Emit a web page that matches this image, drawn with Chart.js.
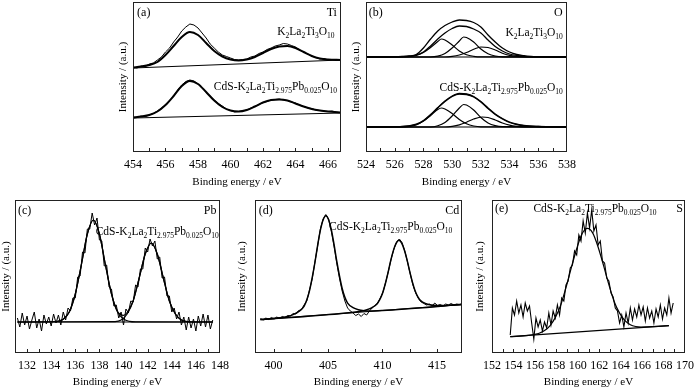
<!DOCTYPE html>
<html><head><meta charset="utf-8">
<script src="https://cdn.jsdelivr.net/npm/chart.js@4.4.1/dist/chart.umd.min.js"></script>
<style>
html,body{margin:0;padding:0;background:#fff;}
#wrap{position:relative;width:700px;height:392px;overflow:hidden;background:#fff;}
.p{position:absolute;}
canvas{display:block;}
</style></head><body><div id="wrap">
<div class="p" style="left:96px;top:0;width:254px;height:192px"><canvas id="ca" width="254" height="192"></canvas></div>
<div class="p" style="left:348px;top:0;width:234px;height:192px"><canvas id="cb" width="234" height="192"></canvas></div>
<div class="p" style="left:0;top:192px;width:235px;height:200px"><canvas id="cc" width="235" height="200"></canvas></div>
<div class="p" style="left:235px;top:192px;width:237px;height:200px"><canvas id="cd" width="237" height="200"></canvas></div>
<div class="p" style="left:472px;top:192px;width:228px;height:200px"><canvas id="ce" width="228" height="200"></canvas></div>
</div>
<script>
// ---------- tick labels ----------
const tiTickLabels = [454,456,458,460,462,464,466];
const oTickLabels  = [524,526,528,530,532,534,536,538];
const pbTickLabels = [132,134,136,138,140,142,144,146,148];
const cdTickLabels = [400,405,410,415];
const sTickLabels  = [152,154,156,158,160,162,164,166,168,170];

// ---------- (a) Ti 2p ----------
const tiTopRaw = [[454,85],[454.25,84],[454.5,86],[454.75,85.5],[455,88],[455.25,89],[455.5,92],[455.75,95],[456,100],[456.25,104],[456.5,110],[456.75,115],[457,121],[457.25,125],[457.5,128],[457.75,127],[458,124],[458.25,119],[458.5,114],[458.75,108],[459,104],[459.25,100],[459.5,97],[459.75,95.5],[460,94],[460.25,92.5],[460.5,92],[460.75,92.5],[461,93],[461.25,95],[461.5,96],[461.75,98.5],[462,100],[462.25,102.5],[462.5,104],[462.75,106],[463,107],[463.25,108.5],[463.5,108],[463.75,106.5],[464,105],[464.25,102],[464.5,100],[464.75,98],[465,96],[465.25,94.5],[465.5,93],[465.75,93.5],[466,92],[466.25,92.5],[466.5,91.5],[466.8,92]];
const tiTopFit = [[454,84.5],[454.5,85.5],[455,87],[455.5,90],[456,97],[456.5,106],[457,115],[457.5,120],[458,117],[458.5,109],[459,101],[459.5,95.5],[460,92.5],[460.5,91.5],[461,92.5],[461.5,95],[462,99],[462.5,103],[463,105.5],[463.5,106],[464,104],[464.5,100],[465,96],[465.5,93.5],[466,92.5],[466.8,92]];
const tiTopBase = [[454,84],[466.8,92]];
const tiBotRaw = [[454,35],[454.25,34.5],[454.5,36],[454.75,35.5],[455,37],[455.25,38.5],[455.5,41],[455.75,44],[456,47],[456.25,51.5],[456.5,56],[456.75,62],[457,67],[457.25,70.5],[457.5,72],[457.75,71],[458,68],[458.25,64],[458.5,59.5],[458.75,56],[459,52],[459.25,48.5],[459.5,46],[459.75,43],[460,41.5],[460.25,40],[460.5,40.5],[460.75,41],[461,42],[461.25,44],[461.5,45.5],[461.75,47.5],[462,49.5],[462.25,50.5],[462.5,52],[462.75,52.5],[463,53],[463.25,52],[463.5,51.5],[463.75,50],[464,49],[464.25,47],[464.5,45.5],[464.75,44],[465,43.5],[465.25,42],[465.5,41.5],[465.75,41],[466,40.5],[466.25,41],[466.5,40],[466.8,39.5]];
const tiBotFit = [[454,34.5],[454.5,35.5],[455,37],[455.5,40.5],[456,47],[456.5,56],[457,66],[457.5,71],[458,68],[458.5,60],[459,51.5],[459.5,45],[460,41.5],[460.5,40.5],[461,42],[461.5,45.5],[462,49.5],[462.5,52],[463,52.5],[463.5,51.5],[464,48.5],[464.5,45.5],[465,43],[465.5,41.5],[466,40.5],[466.8,39.5]];
const tiBotBase = [[454,34],[466.8,39]];

// ---------- (b) O 1s ----------
const oTopRaw = [[524,95],[525,95],[526,95.2],[526.5,95.5],[527,96],[527.5,97.5],[528,104],[528.5,113],[529,121],[529.5,126.5],[530,130],[530.5,132],[531,131.5],[531.5,129.5],[532,125],[532.5,117],[533,110],[533.5,104],[534,100],[534.5,97.5],[535,96.3],[535.5,95.6],[536,95.3],[537,95],[538,95]];
const oTopEnv = [[524,95],[526,95.2],[527,95.8],[527.5,97],[528,100],[528.5,106],[529,113],[529.5,119],[530,123.5],[530.5,126],[531,125.5],[531.5,123],[532,119],[532.5,112],[533,105.5],[533.5,101],[534,98],[534.5,96.5],[535,95.7],[536,95.2],[538,95]];
const oTopC1 = [[524,95],[526.5,95],[527,95.4],[527.5,96.5],[528,99.5],[528.5,104.5],[529,110.5],[529.25,113],[529.5,112],[530,107],[530.5,101],[531,97.3],[531.5,95.7],[532,95.1],[538,95]];
const oTopC2 = [[524,95],[528.5,95],[529,95.8],[529.5,98.5],[530,104],[530.5,111],[530.8,115],[531,114.5],[531.5,110],[532,103],[532.5,98.3],[533,96],[533.5,95.2],[538,95]];
const oTopC3 = [[524,95],[529.5,95],[530,95.6],[530.5,97],[531,99.5],[531.5,102.7],[532,105],[532.5,104.5],[533,102],[533.5,98.8],[534,96.7],[534.5,95.6],[535,95.1],[538,95]];
const oTopBase = [[524,95],[538,95]];
const oBotRaw = [[524,25],[526,25.3],[527,26.2],[527.5,27.8],[528,31.5],[528.5,37.5],[529,44.5],[529.5,51],[530,56],[530.5,58.5],[531,58],[531.5,55.5],[532,50.5],[532.5,44],[533,38],[533.5,33.5],[534,30],[534.5,27.8],[535,26.5],[536,25.6],[538,25]];
const oBotEnv = [[524,25],[526,25.2],[527,26],[527.5,27.5],[528,31],[528.5,37],[529,44],[529.5,50.5],[530,55.5],[530.5,58],[531,57.5],[531.5,55],[532,50],[532.5,43.5],[533,37.5],[533.5,33],[534,29.5],[534.5,27.5],[535,26.3],[536,25.5],[538,25]];
const oBotC1 = [[524,25],[526.5,25],[527,25.5],[527.5,27],[528,31],[528.5,36.5],[529,42.5],[529.25,44],[529.5,43],[530,38.5],[530.5,32.5],[531,28.2],[531.5,26],[532,25.2],[538,25]];
const oBotC2 = [[524,25],[528.5,25],[529,26.2],[529.5,29.5],[530,36],[530.5,44],[530.8,47.5],[531,47],[531.5,42],[532,34.5],[532.5,29],[533,26.3],[533.5,25.3],[538,25]];
const oBotC3 = [[524,25],[529.5,25],[530,25.7],[530.5,27.2],[531,29.8],[531.5,33],[532.1,35],[532.5,34.5],[533,32],[533.5,29],[534,26.8],[534.5,25.6],[535,25.1],[538,25]];
const oBotBase = [[524,25],[538,25]];

// ---------- (c) Pb 4f ----------
const pbRaw = [[131.2,35],[131.4,26],[131.6,40],[131.8,28],[132,37],[132.2,24],[132.4,33],[132.6,41],[132.8,25],[133,34],[133.2,22],[133.4,38],[133.6,29],[133.8,36],[134,27],[134.2,39],[134.4,30],[134.6,38],[134.8,28],[135,41],[135.2,33],[135.4,45],[135.6,42],[135.8,55],[136,55],[136.2,76],[136.4,77],[136.6,101],[136.8,100],[137,124],[137.2,124],[137.4,140],[137.6,128],[137.8,135],[138,113],[138.2,112],[138.4,87],[138.6,88],[138.8,66],[139,64],[139.2,47],[139.4,48],[139.6,35],[139.8,41],[140,28],[140.2,44],[140.4,40],[140.6,52],[140.8,51],[141,68],[141.2,66],[141.4,84],[141.6,84],[141.8,105],[142,101],[142.2,114],[142.4,107],[142.6,112],[142.8,94],[143,96],[143.2,75],[143.4,76],[143.6,57],[143.8,57],[144,41],[144.2,45],[144.4,34],[144.6,41],[144.8,28],[145,36],[145.2,23],[145.4,36],[145.6,25],[145.8,34],[146,22],[146.2,37],[146.4,27],[146.6,39],[146.8,26],[147,38],[147.2,24],[147.4,33]];
const pbC1 = [[131.2,31],[134.5,31.5],[135,33.8],[135.5,41],[136,59],[136.5,88],[137,119],[137.5,133],[138,119],[138.5,88],[139,59],[139.5,41],[140,34],[140.5,31.6],[141,31.1],[147.4,31]];
const pbC2 = [[131.2,31],[139.3,31.4],[139.8,33],[140.3,39],[140.8,52],[141.3,75],[141.8,99],[142.3,110],[142.8,99],[143.3,75],[143.8,52],[144.3,39],[144.8,33],[145.3,31.4],[147.4,31]];
const pbEnv = [[134.5,31.6],[135,33.8],[135.5,41],[136,59],[136.5,88],[137,119],[137.5,133],[138,119],[138.5,88],[139,59.2],[139.5,41.8],[140,37.7],[140.3,40.5],[140.8,52.3],[141.3,75],[141.8,99],[142.3,110],[142.8,99],[143.3,75],[143.8,52],[144.3,39],[144.8,33],[145.3,31.4]];
const pbBase = [[131.2,31],[147.4,31]];

// ---------- (d) Cd 3d ----------
const cdRaw = [[398.8,34.5],[399.05,33],[399.3,35],[399.55,33.5],[399.8,35.5],[400.05,34],[400.3,36],[400.55,34.5],[400.8,36.5],[401.05,35.5],[401.3,37.5],[401.55,37],[401.8,39.5],[402.05,39],[402.3,42.5],[402.55,43],[402.8,48],[403.05,52],[403.3,63],[403.55,74],[403.8,91],[404.05,107],[404.3,124],[404.55,134],[404.8,138.5],[405.05,134],[405.3,122],[405.55,107],[405.8,90],[406.05,75],[406.3,62],[406.55,52],[406.8,45],[407.05,42],[407.3,40],[407.55,37.5],[407.8,39],[408.05,36.5],[408.3,39.5],[408.55,38],[408.8,42],[409.05,45],[409.3,47.5],[409.55,50],[409.8,55],[410.05,61],[410.3,71],[410.55,82],[410.8,94],[411.05,104],[411.3,111],[411.55,114],[411.8,110.5],[412.05,102],[412.3,91],[412.55,79],[412.8,68],[413.05,60],[413.3,54.5],[413.55,51],[413.8,49.5],[414.05,48],[414.3,49],[414.55,47],[414.8,50],[415.05,47.5],[415.3,48.5],[415.55,47],[415.8,49],[416.05,48],[416.3,49.5],[416.55,48],[416.8,49],[417.05,48.5],[417.25,49]];
const cdC1 = [[398.8,33.4],[400.8,35.6],[401.3,36.6],[401.8,38.4],[402.3,41.3],[402.8,46.7],[403.05,52.9],[403.3,62.1],[403.55,75.3],[403.8,90.5],[404.05,107.7],[404.3,122.9],[404.55,133.1],[404.8,137.3],[405.05,133.5],[405.3,123.7],[405.55,108.9],[405.8,92.1],[406.05,77.3],[406.3,64.5],[406.55,55.7],[406.8,49.9],[407.3,45.3],[407.8,43.2],[408.3,42.3],[408.8,42.1],[410,42.6],[417.25,48.4]];
const cdC2 = [[398.8,33.4],[406,39.3],[408,41.7],[408.5,43],[409,45.2],[409.5,49.1],[409.75,53.3],[410,59.5],[410.25,68.7],[410.5,79.9],[410.75,92.1],[411,102.4],[411.25,109.6],[411.5,112.8],[411.75,110],[412,103.2],[412.25,93.4],[412.5,81.6],[412.75,70.8],[413,62],[413.25,56.2],[413.5,52.4],[414,49.3],[414.5,47.9],[415,47.4],[417.25,48.4]];
const cdBase = [[398.8,33.4],[417.25,48.4]];

// ---------- (e) S 2p ----------
const sRaw = [[153.7,18],[153.9,45],[154.1,38],[154.3,52],[154.5,40],[154.7,48],[154.9,36],[155.1,50],[155.3,42],[155.5,47],[155.7,30],[155.9,14],[156.1,35],[156.3,26],[156.5,33],[156.7,22],[156.9,31],[157.1,25],[157.3,40],[157.5,28],[157.7,42],[157.9,35],[158.1,48],[158.3,38],[158.5,55],[158.7,52],[158.9,68],[159.1,72],[159.3,85],[159.5,88],[159.7,102],[159.9,98],[160.1,118],[160.3,112],[160.5,132],[160.7,120],[160.9,140],[161.1,125],[161.3,143],[161.5,122],[161.7,128],[161.9,108],[162.1,112],[162.3,92],[162.5,90],[162.7,75],[162.9,72],[163.1,60],[163.3,56],[163.5,45],[163.7,42],[163.9,30],[164.1,38],[164.3,26],[164.5,40],[164.7,30],[164.9,45],[165.1,33],[165.3,44],[165.5,36],[165.7,48],[165.9,38],[166.1,46],[166.3,32],[166.5,45],[166.7,35],[166.9,42],[167.1,30],[167.3,44],[167.5,36],[167.7,48],[167.9,34],[168.1,45],[168.3,38],[168.5,55],[168.7,40],[168.9,50]];
const sFit = [[153.7,16.3],[155.4,17.6],[155.9,18.5],[156.4,19.8],[156.9,22.4],[157.4,27.2],[157.9,35.4],[158.4,47.6],[158.9,65.5],[159.4,85.4],[159.9,104.3],[160.4,119.2],[160.9,124.6],[161.4,119.9],[161.9,105.8],[162.4,87.7],[162.9,68.4],[163.4,51.3],[163.9,39.9],[164.4,32.4],[164.9,28.3],[165.4,26.5],[165.9,26],[166.5,26.1],[167.5,26.6],[168.5,27.3]];
const sBase = [[153.7,16.3],[168.5,27.3]];

// ---------- label texts ----------
const K2 = [['K'],['2',1],['La'],['2',1],['Ti'],['3',1],['O'],['10',1]];
const CDS = [['CdS-K'],['2',1],['La'],['2',1],['Ti'],['2.975',1],['Pb'],['0.025',1],['O'],['10',1]];

const FONT = '"Liberation Serif", "Times New Roman", serif';
Chart.defaults.font.family = FONT;
Chart.defaults.color = '#000';

function drawRich(ctx, parts, x, y, align, size, subSize) {
  const fm = size + 'px ' + FONT, fs = subSize + 'px ' + FONT;
  let w = 0;
  parts.forEach(p => { ctx.font = p[1] ? fs : fm; w += ctx.measureText(p[0]).width; });
  let cx = align === 'right' ? x - w : (align === 'center' ? x - w / 2 : x);
  ctx.textBaseline = 'middle'; ctx.textAlign = 'left'; ctx.fillStyle = '#000';
  parts.forEach(p => {
    ctx.font = p[1] ? fs : fm;
    ctx.fillText(p[0], cx, p[1] ? y + size * 0.32 : y);
    cx += ctx.measureText(p[0]).width;
  });
}

const decor = {
  id: 'decor',
  afterDraw(chart, args, o) {
    const {ctx, chartArea: a, scales: {x, y}} = chart;
    ctx.save();
    ctx.strokeStyle = '#222'; ctx.lineWidth = 1;
    ctx.strokeRect(Math.round(a.left) + 0.5, Math.round(a.top) + 0.5, Math.round(a.right - a.left) - 1, Math.round(a.bottom - a.top) - 1);
    ctx.beginPath();
    x.ticks.forEach(t => {
      const r = t.value / o.tickStep;
      if (Math.abs(r - Math.round(r)) > 1e-6) return;
      const px = Math.round(x.getPixelForValue(t.value)) + 0.5;
      if (px < a.left + 2 || px > a.right - 2) return;
      ctx.moveTo(px, a.bottom); ctx.lineTo(px, a.bottom - 4);
    });
    ctx.stroke();
    (o.labels || []).forEach(l => {
      const sub = l.parts.length > 1;
      drawRich(ctx, l.parts, x.getPixelForValue(l.x), y.getPixelForValue(l.y), l.align, sub ? 11.5 : 12, 7.5);
    });
    ctx.restore();
  }
};

function line(data, w, smooth, color) {
  return {
    data: data.map(p => ({x: p[0], y: p[1]})),
    borderColor: color || '#000', borderWidth: w, pointRadius: 0, fill: false,
    tension: 0, cubicInterpolationMode: smooth ? 'monotone' : 'default', spanGaps: true
  };
}

function make(id, c) {
  return new Chart(document.getElementById(id), {
    type: 'line',
    data: { datasets: c.datasets },
    options: {
      responsive: false, animation: false, devicePixelRatio: 1,
      layout: { padding: c.pad },
      plugins: { legend: {display: false}, tooltip: {enabled: false}, decor: {tickStep: c.tickStep, labels: c.labels} },
      scales: {
        x: {
          type: 'linear', min: c.xmin, max: c.xmax,
          ticks: { stepSize: c.tickStep, includeBounds: false, autoSkip: false, maxRotation: 0, padding: c.tickPad,
                   font: {size: 12}, color: '#000',
                   callback: v => c.tickLabels.some(t => Math.abs(t - v) < 1e-6) ? String(v) : '' },
          grid: {display: false, drawTicks: false}, border: {display: false},
          title: {display: true, text: 'Binding energy / eV', font: {size: 11}, color: '#000', padding: {top: 0, bottom: c.xtPad}},
          afterFit: s => { s.height = c.xh; }
        },
        y: {
          min: 0, max: c.ymax,
          ticks: {display: false}, grid: {display: false, drawTicks: false}, border: {display: false},
          title: {display: true, text: 'Intensity / (a.u.)', font: {size: 11}, color: '#000', padding: {top: c.ytPad, bottom: 0}},
          afterFit: s => { s.width = c.yw; }
        }
      }
    },
    plugins: [decor]
  });
}

make('ca', {
  xmin: 454, xmax: 466.8, ymax: 150, tickStep: 1, tickLabels: tiTickLabels,
  pad: {left: 0, top: 2, right: 9, bottom: 0}, yw: 37, ytPad: 21, xh: 40, tickPad: 6, xtPad: 3,
  datasets: [line(tiTopBase, 1), line(tiTopRaw, 1, false), line(tiTopFit, 2, true),
             line(tiBotBase, 1), line(tiBotRaw, 1, false), line(tiBotFit, 2, true)],
  labels: [
    {x: 454.25, y: 139, align: 'left', parts: [['(a)']]},
    {x: 466.55, y: 139, align: 'right', parts: [['Ti']]},
    {x: 466.4, y: 120, align: 'right', parts: K2},
    {x: 466.55, y: 65, align: 'right', parts: CDS}
  ]
});

make('cb', {
  xmin: 524, xmax: 538, ymax: 150, tickStep: 1, tickLabels: oTickLabels,
  pad: {left: 0, top: 2, right: 10, bottom: 0}, yw: 18, ytPad: 1.4, xh: 40, tickPad: 6, xtPad: 3,
  datasets: [line(oTopBase, 1.2), line(oTopC1, 1.2, true), line(oTopC2, 1.2, true), line(oTopC3, 1.2, true),
             line(oTopEnv, 1.3, true), line(oTopRaw, 1.3, true),
             line(oBotBase, 1.2), line(oBotC1, 1.2, true), line(oBotC2, 1.2, true), line(oBotC3, 1.2, true),
             line(oBotEnv, 1.3, true), line(oBotRaw, 1.3, true)],
  labels: [
    {x: 524.2, y: 139, align: 'left', parts: [['(b)']]},
    {x: 537.7, y: 139, align: 'right', parts: [['O']]},
    {x: 537.7, y: 119, align: 'right', parts: K2},
    {x: 537.7, y: 64, align: 'right', parts: CDS}
  ]
});

make('cc', {
  xmin: 131, xmax: 148, ymax: 153, tickStep: 1, tickLabels: pbTickLabels,
  pad: {left: 0, top: 8, right: 10, bottom: 0}, yw: 15, ytPad: 0, xh: 39, tickPad: 6, xtPad: 3,
  datasets: [line(pbBase, 1), line(pbC1, 1.2, true), line(pbC2, 1.2, true), line(pbEnv, 1.2, true), line(pbRaw, 1, false)],
  labels: [
    {x: 131.25, y: 142, align: 'left', parts: [['(c)']]},
    {x: 147.7, y: 142, align: 'right', parts: [['Pb']]},
    {x: 147.9, y: 121, align: 'right', parts: CDS}
  ]
});

make('cd', {
  xmin: 398.3, xmax: 417.3, ymax: 153, tickStep: 2.5, tickLabels: cdTickLabels,
  pad: {left: 0, top: 8, right: 10, bottom: 0}, yw: 20, ytPad: 0.4, xh: 39, tickPad: 6, xtPad: 3,
  datasets: [line(cdBase, 1), line(cdC1, 1.5, true), line(cdC2, 1.5, true), line(cdRaw, 1, false)],
  labels: [
    {x: 398.65, y: 142, align: 'left', parts: [['(d)']]},
    {x: 417.05, y: 142, align: 'right', parts: [['Cd']]},
    {x: 416.4, y: 126, align: 'right', parts: CDS}
  ]
});

make('ce', {
  xmin: 152, xmax: 170, ymax: 153, tickStep: 1, tickLabels: sTickLabels,
  pad: {left: 0, top: 8, right: 7, bottom: 0}, yw: 20, ytPad: 1.4, xh: 39, tickPad: 6, xtPad: 3,
  datasets: [line(sBase, 1.2), line(sFit, 1.2, true), line(sRaw, 1.1, false)],
  labels: [
    {x: 152.27, y: 144, align: 'left', parts: [['(e)']]},
    {x: 161.6, y: 144, align: 'center', parts: CDS},
    {x: 169.8, y: 144, align: 'right', parts: [['S']]}
  ]
});
</script></body></html>
